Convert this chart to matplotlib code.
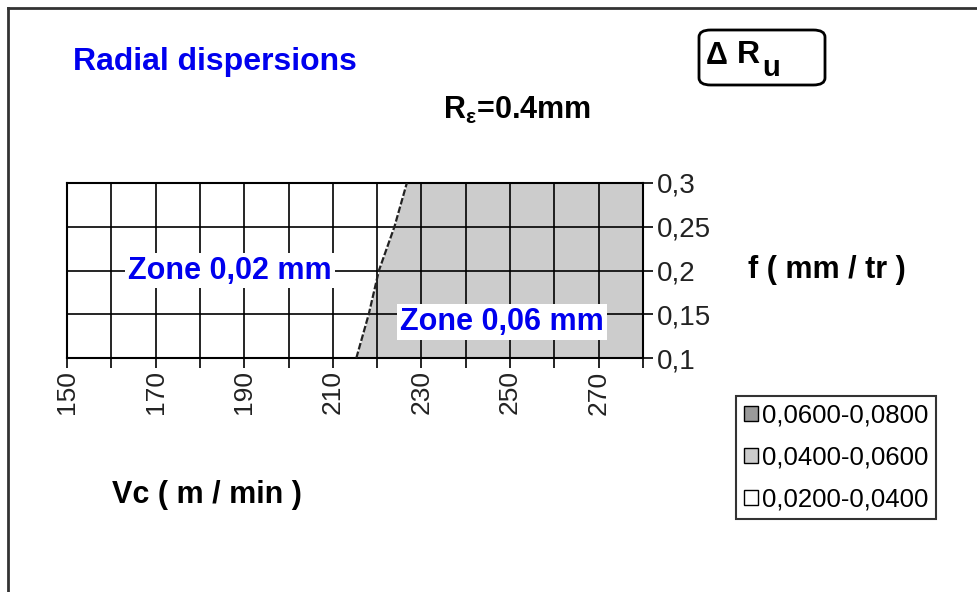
import matplotlib
matplotlib.use('Agg')
import matplotlib.pyplot as plt
from matplotlib.patches import Patch, FancyBboxPatch
from matplotlib.lines import Line2D
from matplotlib.ticker import FixedLocator, MultipleLocator, FuncFormatter

plt.rcParams['font.family'] = ['Liberation Sans', 'DejaVu Sans']
plt.rcParams['mathtext.fontset'] = 'custom'
plt.rcParams['mathtext.rm'] = 'Liberation Sans:bold'
plt.rcParams['mathtext.it'] = 'Liberation Sans:bold'
plt.rcParams['mathtext.bf'] = 'Liberation Sans:bold'

# data
f_vals = [0.10, 0.15, 0.20, 0.25, 0.30]
vc_bound = [215.3, 218.1, 220.4, 223.9, 226.7]   # limit between the two zones
vc_min, vc_max = 150, 280
f_min, f_max = 0.10, 0.30
vc_ticks = [150, 170, 190, 210, 230, 250, 270]
f_ticks = [0.10, 0.15, 0.20, 0.25, 0.30]
legend_labels = ['0,0600-0,0800', '0,0400-0,0600', '0,0200-0,0400']
legend_colors = ['#9a9a9a', '#cccccc', '#ffffff']

W, H = 977, 592


def px(x, y):
    return x / W, 1 - y / H


fig = plt.figure(figsize=(W / 100, H / 100), dpi=100)
ax = fig.add_axes([67 / W, 1 - 358 / H, (643 - 67) / W, (358 - 183) / H])

ax.fill_betweenx(f_vals, vc_bound, vc_max, color='#cccccc', lw=0, zorder=1)
ax.plot(vc_bound, f_vals, color='#222222', lw=1.6, ls=(0, (3, 1)), zorder=3)

ax.set_xlim(vc_min, vc_max)
ax.set_ylim(f_min, f_max)
ax.xaxis.set_major_locator(FixedLocator(vc_ticks))
ax.xaxis.set_minor_locator(MultipleLocator(10))
ax.yaxis.set_major_locator(FixedLocator(f_ticks))
ax.yaxis.tick_right()
ax.yaxis.set_major_formatter(FuncFormatter(lambda v, p: ('%g' % round(v, 2)).replace('.', ',')))
ax.grid(True, which='both', color='black', lw=1.2, zorder=2)
ax.set_axisbelow(False)
ax.tick_params(axis='both', which='both', direction='out', length=7, width=1.2,
               labelcolor='#222222')
ax.tick_params(axis='x', labelrotation=90, pad=2, labelsize=19)
ax.tick_params(axis='y', pad=3, labelsize=20)
for s in ax.spines.values():
    s.set_linewidth(1.5)
    s.set_color('black')

zone_font = dict(color='#0000ee', fontsize=22, fontweight='bold', ha='center', va='center',
                 zorder=5)
ax.text(186.8, 0.2, 'Zone 0,02 mm', bbox=dict(facecolor='white', edgecolor='none', pad=2),
        **zone_font)
ax.text(248.2, 0.141, 'Zone 0,06 mm', bbox=dict(facecolor='white', edgecolor='none', pad=2),
        **zone_font)

# titles
fig.text(*px(73, 62), 'Radial dispersions', color='#0000ee', fontsize=23,
         fontweight='bold', va='center')
fig.text(*px(443, 110), r'R$_{ε}$=0.4mm', fontsize=22, fontweight='bold', va='center')
fig.text(*px(748, 270), 'f ( mm / tr )', fontsize=22, fontweight='bold', va='center')
fig.text(*px(112, 495), 'Vc ( m / min )', fontsize=22, fontweight='bold', va='center')

box = FancyBboxPatch(px(699, 85), 126 / W, 55 / H, boxstyle='round,pad=0,rounding_size=0.012',
                     transform=fig.transFigure, facecolor='white', edgecolor='black', lw=2)
fig.add_artist(box)
fig.text(*px(705, 56), r'$\Delta$', fontsize=22, va='center')
fig.text(*px(737, 55), 'R', fontsize=23, fontweight='bold', va='center')
fig.text(*px(762, 68), 'u', fontsize=21, fontweight='bold', va='center')

handles = [Patch(facecolor=c, edgecolor='black', lw=1) for c in legend_colors]
leg = fig.legend(handles, legend_labels, loc='upper left', bbox_to_anchor=px(736, 396),
                 fontsize=18.5, frameon=True, fancybox=False, edgecolor='black',
                 borderaxespad=0, handlelength=0.55, handleheight=0.55, handletextpad=0.15,
                 labelspacing=0.7, borderpad=0.3)
leg.get_frame().set_linewidth(1.5)

# outer frame
fig.add_artist(Line2D([8 / W, 1], [1 - 8 / H, 1 - 8 / H], color='#333333', lw=2))
fig.add_artist(Line2D([8 / W, 8 / W], [0, 1 - 8 / H], color='#333333', lw=2))

fig.savefig('out.png', dpi=100)
